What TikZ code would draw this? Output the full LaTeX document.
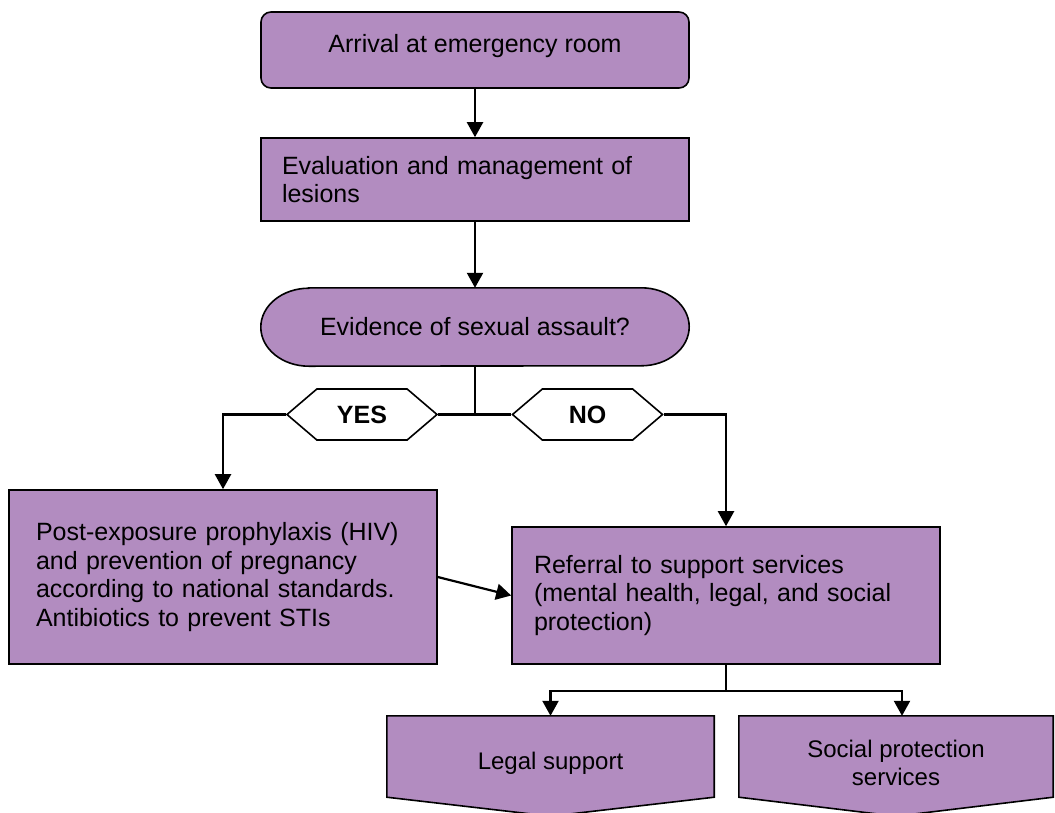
\documentclass[tikz,border=0pt]{standalone}
\usepackage{fontspec}
\setmainfont{Liberation Sans}
\usetikzlibrary{arrows.meta,shapes.symbols,backgrounds,calc}
\definecolor{boxfill}{RGB}{178,140,192}
\begin{document}
\begin{tikzpicture}[x=1pt,y=-1pt,
  every node/.style={font=\fontsize{25}{28.5}\selectfont},
  box/.style={draw=black, line width=1.6pt, fill=boxfill, inner sep=0pt},
  flow/.style={line width=2.2pt, -{Triangle[width=16pt,length=15pt]}},
  plain/.style={line width=2.2pt},
  tag/.style={draw=black, line width=1.6pt, fill=white, shape=signal,
    signal to=west and east, signal pointer angle=81,
    minimum width=150pt, minimum height=51pt, inner sep=0pt,
    font=\bfseries\fontsize{25}{28.5}\selectfont},
  outbox/.style={minimum height=94pt, inner sep=0pt, align=center,
    font=\fontsize{24}{28}\selectfont},
  outshape/.style={draw=black, line width=1.6pt, fill=boxfill, line join=miter}
]
\useasboundingbox (0,0) rectangle (1055,812);

\node[box, rounded corners=10pt, minimum width=428pt, minimum height=76pt, text height=18pt, text depth=13pt] (arr) at (475,50) {Arrival at emergency room};
\node[box, minimum width=428pt, minimum height=83pt, text width=386pt, inner xsep=21pt, align=left] (eval) at (475,179.5) {Evaluation and management of\\lesions};
\node[minimum width=428pt, minimum height=78pt, inner sep=0pt] (evid) at (475,327) {Evidence of sexual assault?};

\node[tag] (yes) at (362,414.5) {YES};
\node[tag] (no) at (587.5,414.5) {NO};
\coordinate (j) at (475,414.5);

\node[box, minimum width=428pt, minimum height=174pt, text width=374pt, inner xsep=27pt, align=left] (pep) at (223,577) {Post-exposure prophylaxis (HIV)\\and prevention of pregnancy\\according to national standards.\\Antibiotics to prevent STIs};
\node[box, minimum width=428pt, minimum height=137pt, text width=384pt, inner xsep=22pt, align=left] (ref) at (726,595.5) {Referral to support services\\(mental health, legal, and social\\protection)};

\node[outbox, minimum width=327pt] (legal) at (550.5,763) {Legal support};
\node[outbox, minimum width=314pt] (social) at (896,763) {Social protection\\services};
\begin{scope}[on background layer]
\draw[outshape] ($(evid.north west)+(48,0)$) -- ($(evid.north east)+(-48,0)$)
  arc[start angle=90, end angle=-90, x radius=48pt, y radius=39pt]
  -- ($(evid.south west)+(48,0)$)
  arc[start angle=270, end angle=90, x radius=48pt, y radius=39pt] -- cycle;
\draw[outshape] (legal.north west) -- (legal.north east) -- ($(legal.south east)+(0,-13)$) -- ($(legal.south)+(0,6)$) -- ($(legal.south west)+(0,-13)$) -- cycle;
\draw[outshape] (social.north west) -- (social.north east) -- ($(social.south east)+(0,-13)$) -- ($(social.south)+(0,6)$) -- ($(social.south west)+(0,-13)$) -- cycle;
\end{scope}

\draw[flow] (arr.south) -- (eval.north);
\draw[flow] (eval.south) -- (evid.north);
\draw[plain] (evid.south) -- (j);
\draw[plain] (j) -- (yes.east);
\draw[plain] (j) -- (no.west);
\draw[flow] (yes.west) -| (pep.north);
\draw[flow] (no.east) -| (ref.north);
\draw[flow] (pep.east) -- (ref.west);
\coordinate (split) at ($(ref.south)+(0,26)$);
\draw[plain] (ref.south) -- (split);
\draw[flow] (split) -| (legal.north);
\draw[flow] (split) -| ($(social.north)+(6,0)$);
\end{tikzpicture}
\end{document}
